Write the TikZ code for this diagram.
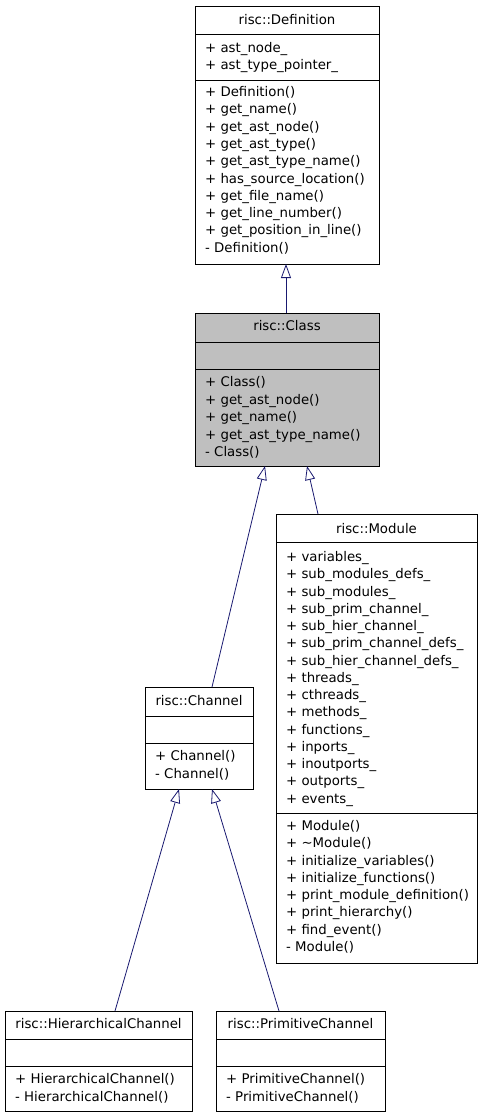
\documentclass[tikz,border=0pt]{standalone}
\usepackage{fontspec}
\setmainfont{DejaVu Sans}
\usetikzlibrary{arrows.meta,calc}
\definecolor{edgecol}{HTML}{191970}
\definecolor{hilite}{HTML}{BFBFBF}
\begin{document}
\begin{tikzpicture}[x=1pt,y=-1pt,
  box/.style={draw=black, line width=0.9pt, inner sep=0, outer sep=0, anchor=north west},
  divider/.style={draw=black, line width=0.9pt},
  txt/.style={font=\fontsize{13.3}{16}\selectfont, inner sep=0, anchor=base west},
  ttl/.style={font=\fontsize{13.3}{16}\selectfont, inner sep=0, anchor=base},
  inh/.style={draw=edgecol, line width=0.8pt, -{Triangle[open, length=14pt, width=10pt, fill=white]}}]
\useasboundingbox (0,0) rectangle (481,1117);

% risc::Definition
\node[box, fill=white, minimum width=184pt, minimum height=258pt] (def) at (195,6) {};
\draw[divider] (195,34) -- (379,34);
\draw[divider] (195,80) -- (379,80);
\node[ttl] (defT) at (287,24.5) {risc::Definition};
\foreach [count=\i] \t in {+ ast\_node\_, + ast\_type\_pointer\_}
  \node[txt] (defA\i) at (205,{52.5+17*(\i-1)}) {\t};
\foreach [count=\i] \t in {+ Definition(), + get\_name(), + get\_ast\_node(), + get\_ast\_type(), + get\_ast\_type\_name(), + has\_source\_location(), + get\_file\_name(), + get\_line\_number(), + get\_position\_in\_line(), - Definition()}
  \node[txt] (defM\i) at (205,{96.5+17.3*(\i-1)}) {\t};

% risc::Class
\node[box, fill=hilite, minimum width=184pt, minimum height=153pt] (cls) at (195,313) {};
\draw[divider] (195,342) -- (379,342);
\draw[divider] (195,369) -- (379,369);
\node[ttl] (clsT) at (287,330.5) {risc::Class};
\foreach [count=\i] \t in {+ Class(), + get\_ast\_node(), + get\_name(), + get\_ast\_type\_name(), - Class()}
  \node[txt] (clsM\i) at (205,{386.5+17.5*(\i-1)}) {\t};

% risc::Module
\node[box, fill=white, minimum width=201pt, minimum height=449pt] (mod) at (276,514) {};
\draw[divider] (276,542) -- (477,542);
\draw[divider] (276,813) -- (477,813);
\node[ttl] (modT) at (376.5,533.5) {risc::Module};
\foreach [count=\i] \t in {+ variables\_, + sub\_modules\_defs\_, + sub\_modules\_, + sub\_prim\_channel\_, + sub\_hier\_channel\_, + sub\_prim\_channel\_defs\_, + sub\_hier\_channel\_defs\_, + threads\_, + cthreads\_, + methods\_, + functions\_, + inports\_, + inoutports\_, + outports\_, + events\_}
  \node[txt] (modA\i) at (286,{561.5+17.25*(\i-1)}) {\t};
\foreach [count=\i] \t in {+ Module(), + \textasciitilde Module(), + initialize\_variables(), + initialize\_functions(), + print\_module\_definition(), + print\_hierarchy(), + find\_event(), - Module()}
  \node[txt] (modM\i) at (286,{830.5+17.25*(\i-1)}) {\t};

% risc::Channel
\node[box, fill=white, minimum width=108pt, minimum height=102pt] (ch) at (145,687) {};
\draw[divider] (145,716) -- (253,716);
\draw[divider] (145,743) -- (253,743);
\node[ttl] (chT) at (199,705.5) {risc::Channel};
\foreach [count=\i] \t in {+ Channel(), - Channel()}
  \node[txt] (chM\i) at (155,{760.5+17.5*(\i-1)}) {\t};

% risc::HierarchicalChannel
\node[box, fill=white, minimum width=187pt, minimum height=100pt] (hier) at (5,1011) {};
\draw[divider] (5,1039) -- (192,1039);
\draw[divider] (5,1066) -- (192,1066);
\node[ttl] (hierT) at (98.5,1028.5) {risc::HierarchicalChannel};
\foreach [count=\i] \t in {+ HierarchicalChannel(), - HierarchicalChannel()}
  \node[txt] (hierM\i) at (15,{1083.5+17.5*(\i-1)}) {\t};

% risc::PrimitiveChannel
\node[box, fill=white, minimum width=169pt, minimum height=100pt] (prim) at (216,1011) {};
\draw[divider] (216,1039) -- (385,1039);
\draw[divider] (216,1066) -- (385,1066);
\node[ttl] (primT) at (300.5,1028.5) {risc::PrimitiveChannel};
\foreach [count=\i] \t in {+ PrimitiveChannel(), - PrimitiveChannel()}
  \node[txt] (primM\i) at (226,{1083.5+17.5*(\i-1)}) {\t};

% inheritance
\draw[inh] ($(cls.north west)+(91,0)$) -- ($(def.south west)+(91,0)$);
\draw[inh] ($(ch.north west)+(67,0)$) -- ($(cls.south west)+(70,0)$);
\draw[inh] ($(mod.north west)+(42,0)$) -- ($(cls.south west)+(112,0)$);
\draw[inh] ($(hier.north west)+(110,0)$) -- ($(ch.south west)+(34,0)$);
\draw[inh] ($(prim.north west)+(63,0)$) -- ($(ch.south west)+(67,0)$);
\end{tikzpicture}
\end{document}
